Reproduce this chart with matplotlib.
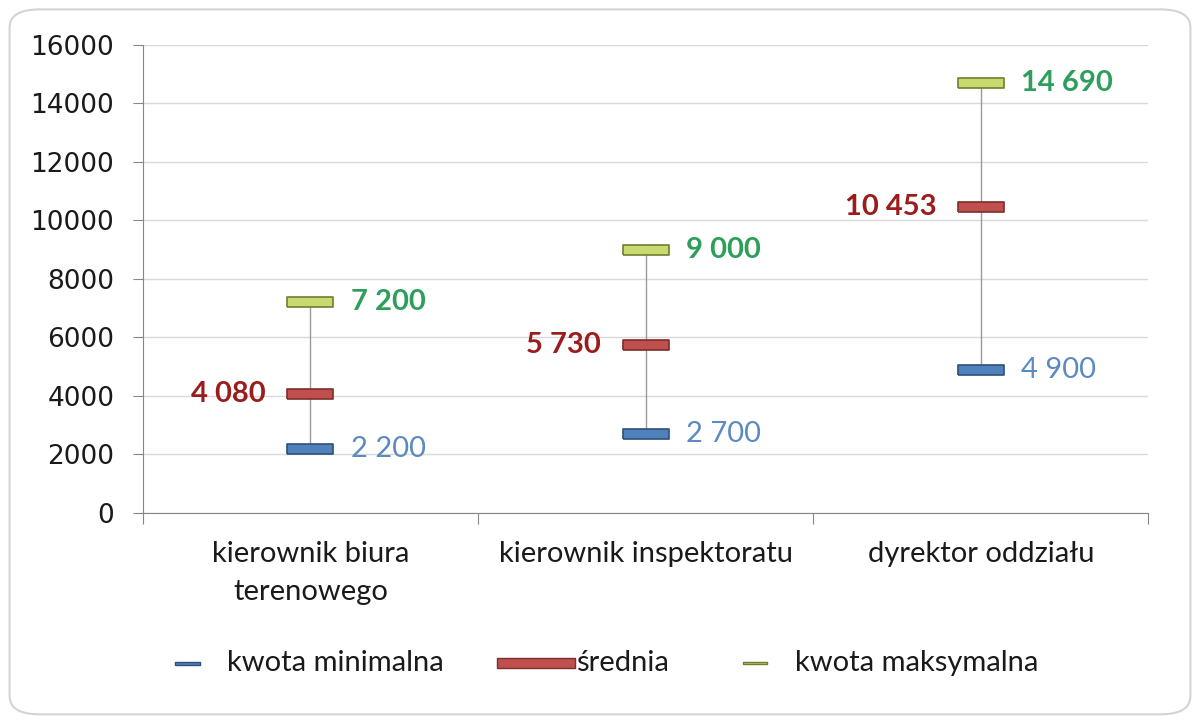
import matplotlib.pyplot as plt
from matplotlib.patches import FancyBboxPatch
from matplotlib.lines import Line2D

# dane z wykresu
stanowiska = ["kierownik biura\nterenowego", "kierownik inspektoratu", "dyrektor oddziału"]
kwota_min = [2200, 2700, 4900]
srednia = [4080, 5730, 10453]
kwota_max = [7200, 9000, 14690]
etykiety_min = ["2 200", "2 700", "4 900"]
etykiety_sr = ["4 080", "5 730", "10 453"]
etykiety_max = ["7 200", "9 000", "14 690"]
serie = ["kwota minimalna", "średnia", "kwota maksymalna"]

font_txt = ["Lato", "DejaVu Sans"]
W, H = 1200, 723

fig = plt.figure(figsize=(12, 7.23), dpi=100)
ramka = FancyBboxPatch((0.008, 0.012), 0.984, 0.975, boxstyle="round,pad=0,rounding_size=0.025",
                       transform=fig.transFigure, facecolor="white", edgecolor="#d4d4d4", lw=1.5,
                       zorder=-5)
fig.patches.append(ramka)

ax = fig.add_axes([0.119, 0.2905, 0.838, 0.6473])
ax.patch.set_alpha(0)
x = list(range(len(stanowiska)))

# linie od min do max
ax.vlines(x, kwota_min, kwota_max, color="#9a9a9a", lw=1, zorder=2)

bar = [(-1, -0.22), (1, -0.22), (1, 0.22), (-1, 0.22), (-1, -0.22)]
ax.plot(x, kwota_min, ls="none", marker=bar, ms=33, mfc="#4f81bd", mec="#2f5078", mew=1.2, zorder=3)
ax.plot(x, srednia, ls="none", marker=bar, ms=33, mfc="#c0504d", mec="#7e2e2c", mew=1.2, zorder=3)
ax.plot(x, kwota_max, ls="none", marker=bar, ms=33, mfc="#c8d96f", mec="#6f7f2f", mew=1.2, zorder=3)

for i in x:
    ax.annotate(etykiety_max[i], (i, kwota_max[i]), xytext=(29, 0), textcoords="offset points",
                ha="left", va="center", fontsize=21, fontweight="bold", color="#2e9e5b", family=font_txt)
    ax.annotate(etykiety_sr[i], (i, srednia[i]), xytext=(-32, 0), textcoords="offset points",
                ha="right", va="center", fontsize=21, fontweight="bold", color="#9b1c1c", family=font_txt)
    ax.annotate(etykiety_min[i], (i, kwota_min[i]), xytext=(29, 0), textcoords="offset points",
                ha="left", va="center", fontsize=21, color="#5a8ac0", family=font_txt)

ax.set_xlim(-0.5, 2.5)
ax.set_ylim(0, 16000)
ax.set_yticks(range(0, 16001, 2000))
ax.yaxis.grid(True, color="#d9d9d9", lw=1)
ax.set_axisbelow(True)
ax.set_xticks([-0.5, 0.5, 1.5, 2.5])
ax.set_xticklabels([])
ax.set_xticks(x, minor=True)
ax.set_xticklabels(stanowiska, minor=True, fontsize=21, family=font_txt, color="#1a1a1a",
                   linespacing=1.6, va="top")
ax.tick_params(axis="x", which="minor", length=0, pad=20)
ax.tick_params(axis="x", which="major", length=8, color="#868686", direction="out")
ax.tick_params(axis="y", length=7, color="#868686", labelsize=19, labelcolor="#1a1a1a", pad=13.5)
for s in ["top", "right"]:
    ax.spines[s].set_visible(False)
for s in ["left", "bottom"]:
    ax.spines[s].set_color("#868686")

# legenda rysowana recznie
leg_y = 1 - 663 / H
leg_x = [187, 536, 755]
leg_ms = [18, 56, 17]
leg_h = [0.12, 0.13, 0.12]
leg_fc = ["#4f81bd", "#c0504d", "#c8d96f"]
leg_ec = ["#2f5078", "#7e2e2c", "#6f7f2f"]
for lx, ms, hh, fc, ec, nazwa in zip(leg_x, leg_ms, leg_h, leg_fc, leg_ec, serie):
    m = [(-1, -hh), (1, -hh), (1, hh), (-1, hh), (-1, -hh)]
    fig.add_artist(Line2D([lx / W], [leg_y], transform=fig.transFigure, ls="none", marker=m,
                          ms=ms, mfc=fc, mec=ec, mew=1))
    fig.text((lx + 40) / W, leg_y, nazwa, ha="left", va="center", fontsize=21, family=font_txt,
             color="#1a1a1a")

fig.savefig("out.png", dpi=100)
